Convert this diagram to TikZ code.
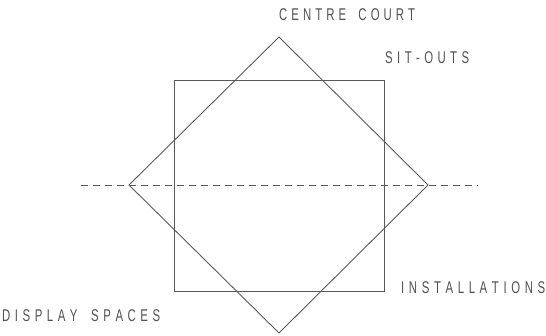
\documentclass[tikz,border=0pt]{standalone}
\usepackage{fontspec}
\setmainfont{Liberation Sans}[FakeStretch=0.67]
\ExplSyntaxOn
\NewDocumentCommand\spreadtext{mm}
  {
    \hbox_to_wd:nn {#1}
      {
        \tl_map_inline:nn {#2}
          { \str_if_eq:nnTF {##1} {/} { \hfil\hfil } { ##1 \hfil } }
        \unskip
      }
  }
\ExplSyntaxOff
\begin{document}
\begin{tikzpicture}[x=1pt,y=-1pt,
  shape line/.style={draw=black!65,line width=0.9pt},
  axis line/.style={draw=black!65,line width=0.9pt,dash pattern=on 7pt off 5pt},
  label/.style={anchor=west,inner sep=0pt,text=black!68,font=\fontsize{17}{17}\selectfont}]
\useasboundingbox (0,0) rectangle (546,335);
% square
\draw[shape line] (174,80) rectangle (384,291);
% diamond
\coordinate (dt) at (279,37);
\coordinate (dl) at (129,185);
\coordinate (dr) at (428,185);
\coordinate (db) at (279,333);
\draw[shape line] (dt) -- (dr) -- (db) -- (dl) -- cycle;
% axis
\coordinate (al) at (81,185);
\coordinate (ar) at (478,185);
\draw[axis line] (al) -- (ar);
% labels
\node[label] (cc) at (279,14.5) {\spreadtext{136pt}{CENTRE/COURT}};
\node[label] (so) at (385,58) {\spreadtext{84pt}{SIT-OUTS}};
\node[label] (in) at (401,288) {\spreadtext{144pt}{INSTALLATIONS}};
\node[label] (ds) at (2,316) {\spreadtext{158pt}{DISPLAY/SPACES}};
\end{tikzpicture}
\end{document}
